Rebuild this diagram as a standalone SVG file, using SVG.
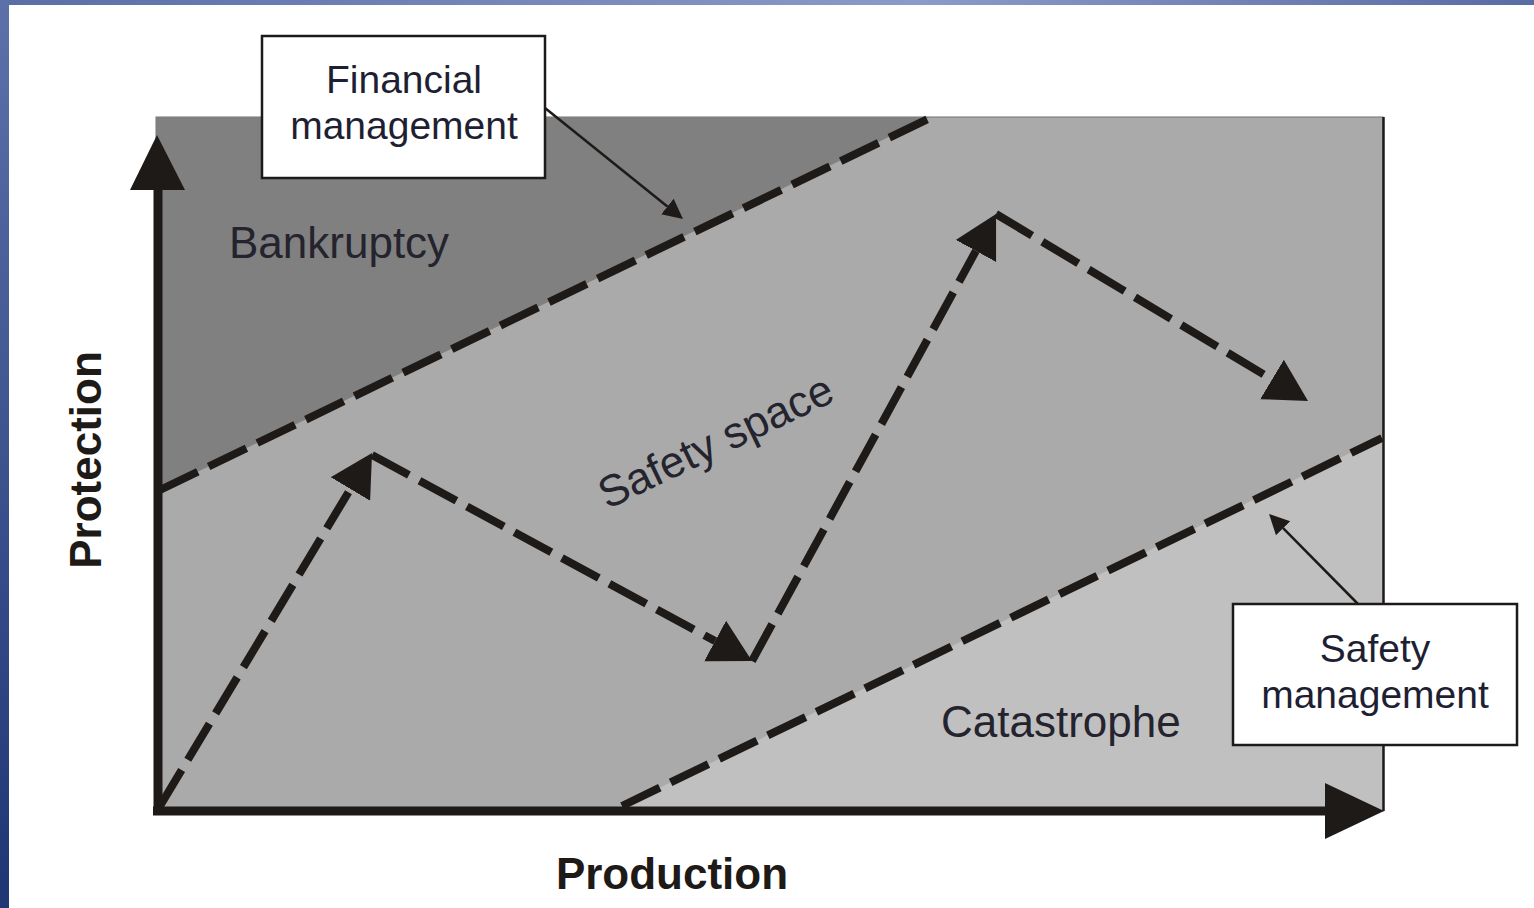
<svg xmlns="http://www.w3.org/2000/svg" width="1534" height="908" viewBox="0 0 1534 908">
<defs>
<linearGradient id="topbar" x1="0" y1="0" x2="1" y2="0">
<stop offset="0" stop-color="#5a6ea6"/>
<stop offset="0.6" stop-color="#8c9ac8"/>
<stop offset="1" stop-color="#5a6ca4"/>
</linearGradient>
<linearGradient id="leftbar" x1="0" y1="0" x2="0" y2="1">
<stop offset="0" stop-color="#5d71a9"/>
<stop offset="1" stop-color="#1e3674"/>
</linearGradient>
<marker id="bigArrow" markerUnits="userSpaceOnUse" markerWidth="50" markerHeight="50" viewBox="0 -25 50 50" refX="0" refY="0" orient="auto">
<path d="M0,-23 L42,0 L0,23 Z" fill="#1e1a18"/>
</marker>
<marker id="smallArrow" markerUnits="userSpaceOnUse" markerWidth="24" markerHeight="24" viewBox="0 -12 24 24" refX="0" refY="0" orient="auto">
<path d="M0,-10 L20,0 L0,10 Z" fill="#1e1a18"/>
</marker>
<style>
.lbl{font-family:"Liberation Sans",Arial,sans-serif;font-size:44px;fill:#24232e}
.axis{font-family:"Liberation Sans",Arial,sans-serif;font-size:44px;font-weight:bold;fill:#1e1a18}
.box{fill:#ffffff;stroke:#1e1a18;stroke-width:2.5}
.boxt{font-family:"Liberation Sans",Arial,sans-serif;font-size:39px;fill:#1f1f33;text-anchor:middle}
.dash{stroke:#1e1a18;stroke-width:8;stroke-dasharray:42 12;fill:none}
.thin{stroke:#1e1a18;stroke-width:2.5;fill:none}
</style>
</defs>
<rect width="1534" height="908" fill="#ffffff"/>
<rect x="0" y="0" width="1534" height="5" fill="url(#topbar)"/>
<rect x="0" y="0" width="9" height="908" fill="url(#leftbar)"/>

<g id="plot">
<rect x="156" y="117" width="1227" height="694" fill="#aaaaaa" stroke="#707070" stroke-width="1"/>
<polygon id="bankruptcy-region" points="156,117 930,117 160,490 156,490" fill="#808080"/>
<polygon id="catastrophe-region" points="622,806 1383,437 1383,811 622,811" fill="#c0c0c0"/>
<line x1="1383.5" y1="117" x2="1383.5" y2="811" stroke="#1e1a18" stroke-width="2.5"/>
</g>

<g id="boundaries">
<line class="dash" x1="160" y1="490" x2="930" y2="118"/>
<line class="dash" x1="622" y1="806" x2="1382" y2="438"/>
</g>

<g id="axes">
<line x1="158" y1="815" x2="158" y2="188" stroke="#1e1a18" stroke-width="9"/>
<polygon points="157,135 185,190 130,190" fill="#1e1a18"/>
<line x1="153" y1="811" x2="1330" y2="811" stroke="#1e1a18" stroke-width="9"/>
<polygon points="1384,811 1325,783 1325,839" fill="#1e1a18"/>
</g>

<g id="connectors">
<line class="dash" x1="160" y1="806" x2="350.4" y2="489" marker-end="url(#bigArrow)"/>
<line class="dash" x1="372" y1="455" x2="715.1" y2="641" marker-end="url(#bigArrow)"/>
<line class="dash" x1="752" y1="661" x2="975.9" y2="250.9" marker-end="url(#bigArrow)"/>
<line class="dash" x1="996" y1="214" x2="1272" y2="379.4" marker-end="url(#bigArrow)"/>
<line class="thin" x1="545" y1="108" x2="667.4" y2="206.5" marker-end="url(#smallArrow)"/>
<line class="thin" x1="1358" y1="604" x2="1283.1" y2="528.2" marker-end="url(#smallArrow)"/>
</g>

<g id="financial-management">
<rect class="box" x="262" y="36" width="283" height="142"/>
<text class="boxt" x="404" y="93">Financial</text>
<text class="boxt" x="404" y="139">management</text>
</g>

<g id="safety-management">
<rect class="box" x="1233" y="604" width="284" height="141"/>
<text class="boxt" x="1375" y="662">Safety</text>
<text class="boxt" x="1375" y="708">management</text>
</g>

<g id="labels">
<text class="lbl" x="229" y="258">Bankruptcy</text>
<text class="lbl" x="941" y="737">Catastrophe</text>
<text class="lbl" x="722" y="455" text-anchor="middle" font-size="45" transform="rotate(-25.5 722 455)">Safety space</text>
<text class="axis" x="672" y="889" text-anchor="middle">Production</text>
<text class="axis" x="101" y="460" text-anchor="middle" transform="rotate(-90 101 460)">Protection</text>
</g>
</svg>
